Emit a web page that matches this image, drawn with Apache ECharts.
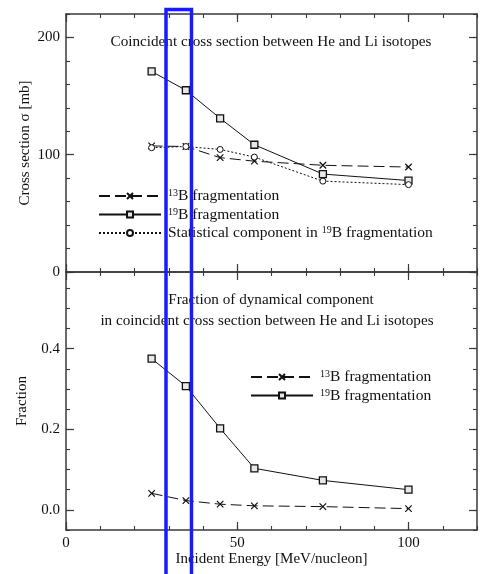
<!DOCTYPE html>
<html>
<head>
<meta charset="utf-8">
<script src="https://cdn.jsdelivr.net/npm/echarts@6/dist/echarts.min.js"></script>
<style>
  html, body { margin: 0; padding: 0; background: #fff; }
  #chart { width: 485px; height: 574px; }
</style>
</head>
<body>
<div id="chart"></div>
<script>
// Incident energy per nucleon (MeV/nucleon)
const energy = [25, 35, 45, 55, 75, 100];

// Coincident He-Li cross sections (mb)
const sigma13B = [107.5, 107, 97.5, 94.5, 91, 89.5];
const sigma19B = [171, 155, 131, 108.5, 83.5, 78];
const sigmaStat19B = [106, 107, 104.5, 98, 77.5, 74.5];

// Fraction of the dynamical component
const frac19B = [0.375, 0.307, 0.202, 0.103, 0.073, 0.050];
const frac13B = [0.041, 0.023, 0.014, 0.010, 0.008, 0.003];

// Tick labels
const energyTicks = [0, 50, 100];
const sigmaTicks = [0, 100, 200];
const fracTicks = [0, 0.2, 0.4];

const FONT = '"Liberation Serif", "Times New Roman", serif';
const INK = '#111';
const FRAME = '#3a3a3a';

const legendLabels = {
  'B13': '{sup|13}{txt|B fragmentation}',
  'B19': '{sup|19}{txt|B fragmentation}',
  'STAT': '{txt|Statistical component in }{sup|19}{txt|B fragmentation}'
};

const xAxes = [];
const yAxes = [];
function push(list, axis) { list.push(axis); return list.length - 1; }

function majorAxis(gridIndex, position, min, max, ticks, showLabel, formatter, extra) {
  return Object.assign({
    type: 'value', gridIndex, position, min, max,
    axisLine: { show: true, onZero: false, lineStyle: { color: FRAME, width: 1.5 } },
    axisTick: { show: true, inside: true, length: 8, customValues: ticks,
                lineStyle: { color: FRAME, width: 1.2 } },
    axisLabel: { show: showLabel, customValues: ticks, formatter,
                 fontFamily: FONT, fontSize: 15, color: INK, margin: 6 },
    splitLine: { show: false }
  }, extra || {});
}
function minorAxis(gridIndex, position, min, max, step) {
  return {
    type: 'value', gridIndex, position, min, max, interval: step,
    axisLine: { show: false, onZero: false },
    axisTick: { show: true, inside: true, length: 4, lineStyle: { color: FRAME, width: 1.1 } },
    axisLabel: { show: false },
    splitLine: { show: false }
  };
}

const intFmt = v => String(Math.round(v));
const fracFmt = v => v.toFixed(1);
const nameStyle = { fontFamily: FONT, fontSize: 15, color: INK };

// Upper panel axes
const xTop0 = push(xAxes, majorAxis(0, 'bottom', 0, 120, energyTicks, false, intFmt));
push(xAxes, majorAxis(0, 'top', 0, 120, energyTicks, false, intFmt));
push(xAxes, minorAxis(0, 'bottom', 0, 120, 10));
push(xAxes, minorAxis(0, 'top', 0, 120, 10));
const yTop0 = push(yAxes, majorAxis(0, 'left', 0, 220, sigmaTicks, true, intFmt, {
  name: 'Cross section σ [mb]', nameLocation: 'middle', nameGap: 33, nameMoveOverlap: false,
  nameTextStyle: nameStyle
}));
push(yAxes, majorAxis(0, 'right', 0, 220, sigmaTicks, false, intFmt));
push(yAxes, minorAxis(0, 'left', 0, 220, 20));
push(yAxes, minorAxis(0, 'right', 0, 220, 20));

// Lower panel axes
const xBot0 = push(xAxes, majorAxis(1, 'bottom', 0, 120, energyTicks, true, intFmt, {
  name: 'Incident Energy [MeV/nucleon]', nameLocation: 'middle', nameGap: 19, nameTextStyle: nameStyle
}));
push(xAxes, majorAxis(1, 'top', 0, 120, energyTicks, false, intFmt));
push(xAxes, minorAxis(1, 'bottom', 0, 120, 10));
push(xAxes, minorAxis(1, 'top', 0, 120, 10));
const yBot0 = push(yAxes, majorAxis(1, 'left', -0.05, 0.59, fracTicks, true, fracFmt, {
  name: 'Fraction', nameLocation: 'middle', nameGap: 36, nameMoveOverlap: false,
  nameTextStyle: nameStyle
}));
push(yAxes, majorAxis(1, 'right', -0.05, 0.59, fracTicks, false, fracFmt));
push(yAxes, minorAxis(1, 'left', -0.05, 0.59, 0.05));
push(yAxes, minorAxis(1, 'right', -0.05, 0.59, 0.05));

const pairs = ys => energy.map((e, i) => [e, ys[i]]);

const crossPath = 'path://M0,0L10,10M10,0L0,10';
const styles = {
  B13: { symbol: crossPath, symbolSize: 6.5, dash: [11, 5],
         itemStyle: { color: 'none', borderColor: INK, borderWidth: 1.2 } },
  B19: { symbol: 'rect', symbolSize: 7, dash: 'solid',
         itemStyle: { color: '#e8e8e8', borderColor: INK, borderWidth: 1.3 } },
  STAT: { symbol: 'circle', symbolSize: 6, dash: [2, 2],
          itemStyle: { color: '#fff', borderColor: INK, borderWidth: 1 } }
};

function lineSeries(key, values, xi, yi) {
  const s = styles[key];
  return {
    type: 'line', name: key, xAxisIndex: xi, yAxisIndex: yi,
    data: pairs(values),
    symbol: s.symbol, symbolSize: s.symbolSize, showSymbol: true,
    lineStyle: { color: INK, width: 1, type: s.dash },
    itemStyle: s.itemStyle,
    emphasis: { disabled: true },
    animation: false
  };
}

const legendCommon = {
  orient: 'vertical', padding: 0, itemWidth: 62, itemHeight: 7.5, itemGap: 2.5,
  selectedMode: false,
  formatter: name => legendLabels[name],
  textStyle: {
    padding: [0, 0, 0, 2],
    rich: {
      txt: { fontFamily: FONT, fontSize: 15.5, color: INK, lineHeight: 15 },
      sup: { fontFamily: FONT, fontSize: 10, color: INK, verticalAlign: 'top', lineHeight: 10 }
    }
  }
};

const titleStyle = { fontFamily: FONT, fontSize: 15.2, fill: INK, align: 'center', verticalAlign: 'middle' };

const option = {
  backgroundColor: '#fff',
  animation: false,
  grid: [
    { left: 66, right: 8, top: 14, height: 258 },
    { left: 66, right: 8, top: 272, height: 258 }
  ],
  xAxis: xAxes,
  yAxis: yAxes,
  legend: [
    Object.assign({}, legendCommon, { data: ['B13', 'B19', 'STAT'], left: 98, top: 188 }),
    Object.assign({}, legendCommon, { data: ['B13', 'B19'], left: 250, top: 369 })
  ],
  series: [
    lineSeries('B13', sigma13B, xTop0, yTop0),
    lineSeries('B19', sigma19B, xTop0, yTop0),
    lineSeries('STAT', sigmaStat19B, xTop0, yTop0),
    lineSeries('B13', frac13B, xBot0, yBot0),
    lineSeries('B19', frac19B, xBot0, yBot0)
  ],
  graphic: [
    { type: 'text', x: 271, y: 42, silent: true,
      style: Object.assign({ text: 'Coincident cross section between He and Li isotopes' }, titleStyle) },
    { type: 'text', x: 271, y: 300, silent: true,
      style: Object.assign({ text: 'Fraction of dynamical component' }, titleStyle) },
    { type: 'text', x: 267, y: 321.5, silent: true,
      style: Object.assign({ text: 'in coincident cross section between He and Li isotopes' }, titleStyle) },
    // highlight box around the 30–35 MeV/nucleon band
    { type: 'rect', z: 100, silent: true,
      shape: { x: 166, y: 9.5, width: 25.5, height: 620 },
      style: { fill: 'none', stroke: '#1a1aff', lineWidth: 3.5 } }
  ]
};

const chart = echarts.init(document.getElementById('chart'), null, { renderer: 'canvas' });
chart.setOption(option);
</script>
</body>
</html>
